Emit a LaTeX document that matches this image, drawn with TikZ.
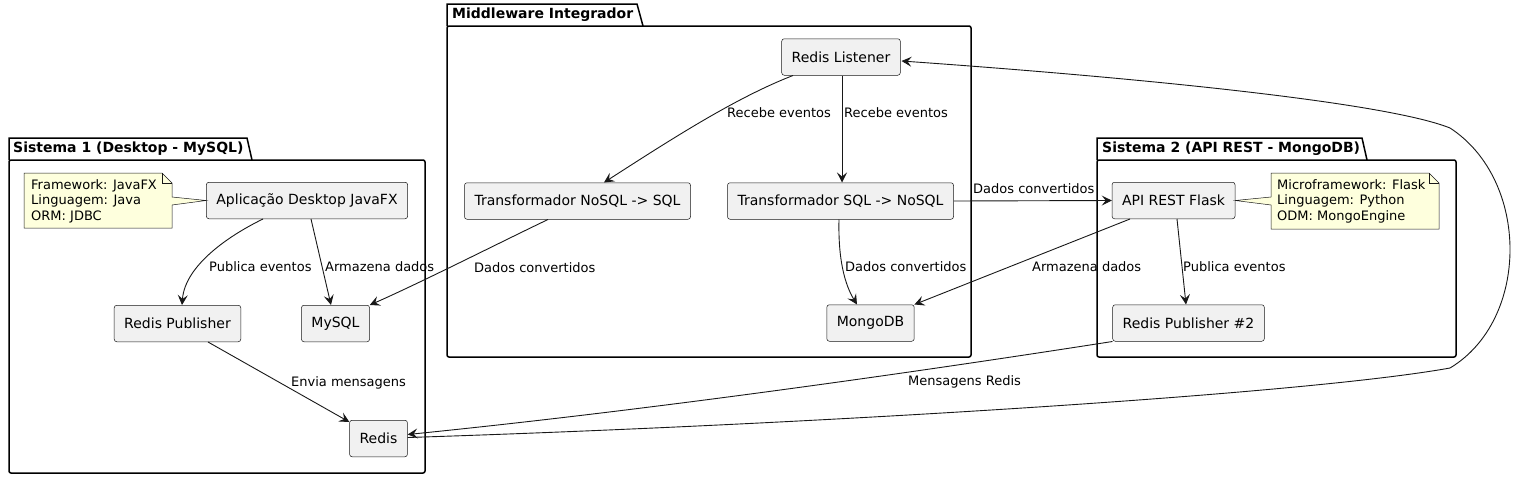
\documentclass[tikz,border=0pt]{standalone}
\usepackage{fontspec}
\setmainfont{DejaVu Sans}
\usetikzlibrary{arrows.meta}
\usetikzlibrary{calc}
\definecolor{compfill}{HTML}{F1F1F1}
\definecolor{ink}{HTML}{181818}
\definecolor{notefill}{HTML}{FEFFDD}

\begin{document}
\begin{tikzpicture}[x=1pt, y=-1pt,
	comp/.style = {draw=ink, fill=compfill, line width=0.5pt, rounded corners=2.5pt, minimum height=36.5pt, inner xsep=10pt, font=\fontsize{14}{16}\selectfont},
	lbl/.style = {anchor=west, inner sep=0pt, font=\fontsize{13}{15}\selectfont},
	notetxt/.style = {anchor=west, align=left, inner sep=0pt, font=\fontsize{13}{15.5}\selectfont},
	pkg/.style = {draw=black, line width=1.5pt},
	pkgtitle/.style = {anchor=west, inner sep=0pt, font=\fontsize{14}{16}\selectfont\bfseries},
	flow/.style = {draw=ink, line width=0.9pt, -{Stealth[length=10pt,width=10pt,inset=4pt]}}]
		\useasboundingbox (0,0) rectangle (1528,479);
		
		% packages
		\draw[pkg, rounded corners=2pt] (9,160) rectangle (425,473);
		\draw[pkg] (9,160) -- (9,138) -- (247,138) -- (252,160);
		\node[pkgtitle] (s1title) at (13,149) {Sistema 1 (Desktop - MySQL)};
		
		\draw[pkg, rounded corners=2pt] (447,26) rectangle (971,357);
		\draw[pkg] (447,26) -- (447,4) -- (637,4) -- (643,26);
		\node[pkgtitle] (mwtitle) at (452,15) {Middleware Integrador};
		
		\draw[pkg, rounded corners=2pt] (1097,160) rectangle (1456,357);
		\draw[pkg] (1097,160) -- (1097,138) -- (1362,138) -- (1367,160);
		\node[pkgtitle] (s2title) at (1102,149) {Sistema 2 (API REST - MongoDB)};
		
		% components
		\node[comp] (app) at (307,200.5) {Aplicação Desktop JavaFX};
		\node[comp] (pub1) at (177.5,323.5) {Redis Publisher};
		\node[comp] (mysql) at (335.5,323.5) {MySQL};
		\node[comp] (redis) at (378.5,438.5) {Redis};
		\node[comp] (listener) at (841,57) {Redis Listener};
		\node[comp] (nosql) at (577.5,201) {Transformador NoSQL -> SQL};
		\node[comp] (sqlnosql) at (840.5,201) {Transformador SQL -> NoSQL};
		\node[comp] (mongo) at (870.5,323) {MongoDB};
		\node[comp] (api) at (1173.5,200.5) {API REST Flask};
		\node[comp] (pub2) at (1188.5,323) {Redis Publisher \#2};
		
		% notes
		\filldraw[draw=ink, fill=notefill, line width=0.5pt] (24,173) -- (162,173) -- (172,183) -- (172,197) -- (app.west) -- (172,205) -- (172,228) -- (24,228) -- cycle;
		\draw[draw=ink, line width=0.5pt] (162,173) |- (172,183);
		\node[notetxt] (note1) at (31,201) {Framework: JavaFX\\Linguagem: Java\\ORM: JDBC};
		
		\filldraw[draw=ink, fill=notefill, line width=0.5pt] (1271,173) -- (1429,173) -- (1439,183) -- (1439,229) -- (1271,229) -- (1271,205) -- (api.east) -- (1271,197) -- cycle;
		\draw[draw=ink, line width=0.5pt] (1429,173) |- (1439,183);
		\node[notetxt] (note2) at (1277,201) {Microframework: Flask\\Linguagem: Python\\ODM: MongoEngine};
		
		% connectors
		\draw[flow] ($(app.south)+(-44,0)$) .. controls (230,235) and (185,265) .. ($(pub1.north)+(4.5,0)$);
		\draw[flow] ($(app.south)+(4,0)$) -- ($(mysql.north)+(-4.5,0)$);
		\draw[flow] ($(pub1.south)+(30.5,0)$) -- ($(redis.north west)+(0,2)$);
		\draw[flow] ($(nosql.south)+(-29.5,0)$) .. controls (505,240) and (420,283) .. (mysql.north east);
		\draw[flow] ($(listener.south)+(-48,0)$) .. controls (735,98) and (670,140) .. ($(nosql.north)+(26.5,0)$);
		\draw[flow] ($(listener.south)+(1,0)$) -- ($(sqlnosql.north)+(1.5,0)$);
		\draw[flow] ($(sqlnosql.south)+(-1.5,0)$) .. controls (838,260) and (845,285) .. ($(mongo.north)+(-13.5,0)$);
		\draw[flow] (sqlnosql.east) -- (api.west);
		\draw[flow] ($(api.south)+(-43.5,0)$) -- (mongo.north east);
		\draw[flow] ($(api.south)+(3.5,0)$) -- ($(pub2.north)+(-2.5,0)$);
		\draw[flow] (pub2.south west) .. controls (1000,359) and (700,405) .. ($(redis.east)+(0,-4)$);
		\draw[flow] ($(redis.east)+(0,-1)$) .. controls (800,425) and (1300,395) .. (1450,368)
			.. controls (1530,320) and (1530,180) .. (1450,128)
			.. controls (1380,100) and (1100,75) .. ($(listener.east)+(1,4)$);
		
		% labels
		\node[lbl] (lpub1) at (209,267) {Publica eventos};
		\node[lbl] (lmysql) at (325,267) {Armazena dados};
		\node[lbl] (lenvia) at (291,383) {Envia mensagens};
		\node[lbl] (lconv1) at (474,268) {Dados convertidos};
		\node[lbl] (lrec1) at (727,113) {Recebe eventos};
		\node[lbl] (lrec2) at (844,113) {Recebe eventos};
		\node[lbl] (lconv2) at (845,267) {Dados convertidos};
		\node[lbl] (lconv3) at (973,189) {Dados convertidos};
		\node[lbl] (larm2) at (1032,267) {Armazena dados};
		\node[lbl] (lpub2) at (1183,267) {Publica eventos};
		\node[lbl] (lmsg) at (908,382) {Mensagens Redis};
		
\end{tikzpicture}
\end{document}
